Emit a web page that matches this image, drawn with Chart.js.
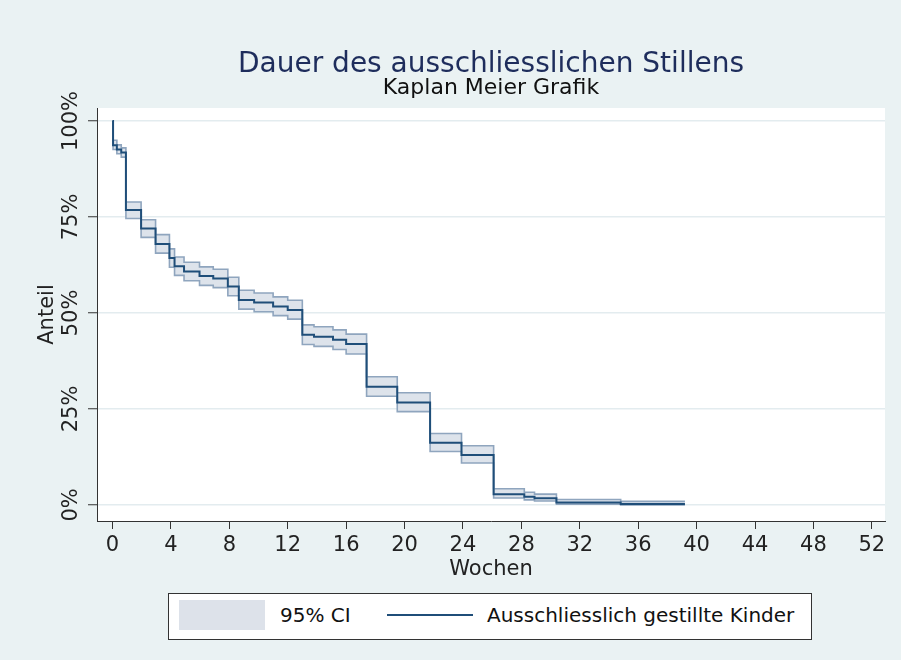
<!DOCTYPE html>
<html>
<head>
<meta charset="utf-8">
<script src="https://cdn.jsdelivr.net/npm/chart.js@4/dist/chart.umd.min.js"></script>
<style>
  html, body { margin: 0; padding: 0; background: #eaf2f3; }
  #wrap { position: relative; width: 901px; height: 660px; font-family: "DejaVu Sans", sans-serif; }
  #chart { position: absolute; left: 0; top: 0; }
  .title { position: absolute; left: 91px; width: 800px; text-align: center; white-space: nowrap; }
  #t1 { top: 49px; font-size: 28px; line-height: 28px; color: #1e2d5c; }
  #t2 { top: 76px; font-size: 22px; line-height: 22px; color: #111; }
  #legend { position: absolute; left: 168px; top: 593px; width: 642px; height: 45px; background: #fff; border: 1px solid #333; }
  #legend .sw { position: absolute; left: 10px; top: 6px; width: 86px; height: 30px; background: #dde2ea; }
  #legend .ln { position: absolute; left: 218px; top: 20px; width: 86px; height: 2px; background: #1f4e79; }
  #legend .tx { position: absolute; top: 10px; font-size: 20px; line-height: 22px; color: #111; white-space: nowrap; }
</style>
</head>
<body>
<div id="wrap">
  <canvas id="chart" width="901" height="660"></canvas>
  <div class="title" id="t1">Dauer des ausschliesslichen Stillens</div>
  <div class="title" id="t2">Kaplan Meier Grafik</div>
  <div id="legend">
    <div class="sw"></div><div class="tx" style="left:111px">95% CI</div>
    <div class="ln"></div><div class="tx" style="left:318px">Ausschliesslich gestillte Kinder</div>
  </div>
</div>
<script>
// Kaplan-Meier steps (weeks, % still exclusively breastfed)
const weeks    = [0, 0.04, 0.3, 0.6, 0.92, 1.96, 2.95, 3.9, 4.25, 4.9, 5.96, 6.9, 7.9, 8.65, 9.7, 11.0, 12.0, 13.0, 13.8, 15.1, 16.0, 17.4, 19.5, 21.75, 23.9, 26.1, 28.2, 28.9, 30.4, 34.8, 39.2];
const survival = [100, 93.7, 92.6, 91.8, 76.8, 72.0, 68.0, 64.3, 62.2, 60.8, 59.6, 59.0, 56.9, 53.4, 52.7, 51.7, 50.8, 44.3, 43.8, 43.0, 41.9, 30.8, 26.7, 16.2, 13.0, 2.8, 2.1, 1.7, 0.6, 0.2, 0.2];
const ciLower  = [100, 92.6, 91.5, 90.6, 74.6, 69.7, 65.6, 61.9, 59.8, 58.4, 57.2, 56.6, 54.5, 51.0, 50.3, 49.3, 48.4, 41.8, 41.3, 40.5, 39.3, 28.3, 24.3, 13.9, 10.9, 1.8, 1.3, 1.0, 0.2, 0.0, 0.0];
const ciUpper  = [100, 95.0, 93.8, 93.0, 78.9, 74.3, 70.4, 66.7, 64.6, 63.2, 62.0, 61.4, 59.3, 55.9, 55.2, 54.2, 53.3, 46.9, 46.4, 45.6, 44.5, 33.4, 29.2, 18.6, 15.4, 4.2, 3.3, 2.8, 1.4, 0.9, 0.9];
const xTicks = [0, 4, 8, 12, 16, 20, 24, 28, 32, 36, 40, 44, 48, 52];
const yTicks = [0, 25, 50, 75, 100];

const pts = (ys) => weeks.map((w, i) => ({ x: w, y: ys[i] }));

const plotBg = {
  id: "plotBg",
  beforeDraw(chart) {
    const { ctx, chartArea: a } = chart;
    ctx.save();
    ctx.fillStyle = "#ffffff";
    ctx.fillRect(a.left, a.top, a.right - a.left, a.bottom - a.top);
    ctx.restore();
  },
};

const font = { family: "'DejaVu Sans', sans-serif", size: 21 };

new Chart(document.getElementById("chart"), {
  type: "line",
  data: {
    datasets: [
      {
        label: "Ausschliesslich gestillte Kinder",
        data: pts(survival),
        borderColor: "#1f4e79",
        borderWidth: 2,
        stepped: "before",
        pointRadius: 0,
        fill: false,
      },
      {
        label: "lower",
        data: pts(ciLower),
        borderColor: "#8fa5be",
        borderWidth: 1.6,
        stepped: "before",
        pointRadius: 0,
        fill: false,
      },
      {
        label: "95% CI",
        data: pts(ciUpper),
        borderColor: "#8fa5be",
        borderWidth: 1.6,
        backgroundColor: "#dde3eb",
        stepped: "before",
        pointRadius: 0,
        fill: 1,
      },
    ],
  },
  options: {
    responsive: false,
    animation: false,
    layout: { padding: { left: 0, right: 16, top: 108, bottom: 64 } },
    plugins: {
      legend: { display: false },
      tooltip: { enabled: false },
    },
    scales: {
      x: {
        type: "linear",
        min: -1.06,
        max: 52.9,
        afterBuildTicks: (s) => { s.ticks = xTicks.map((v) => ({ value: v })); },
        afterFit: (s) => { s.height = 75; },
        border: { display: true, color: "#333", width: 1 },
        grid: { drawOnChartArea: false, tickColor: "#333", tickLength: 8, tickWidth: 1 },
        ticks: { color: "#222", font, padding: 4, maxRotation: 0, autoSkip: false },
        title: { display: true, text: "Wochen", color: "#222", font, padding: { top: 0, bottom: 14 } },
      },
      y: {
        min: -4.2,
        max: 103.4,
        afterBuildTicks: (s) => { s.ticks = yTicks.map((v) => ({ value: v })); },
        afterFit: (s) => { s.width = 97; },
        border: { display: true, color: "#333", width: 1 },
        grid: { color: "#e3ecef", lineWidth: 1.5, tickColor: "#333", tickLength: 9, tickWidth: 1 },
        ticks: {
          color: "#222",
          font,
          minRotation: 90,
          maxRotation: 90,
          crossAlign: "center",
          padding: -14,
          callback: (v) => v + "%",
        },
        title: { display: true, text: "Anteil", color: "#222", font, padding: { top: 35, bottom: 0 } },
      },
    },
  },
  plugins: [plotBg],
});
</script>
</body>
</html>
